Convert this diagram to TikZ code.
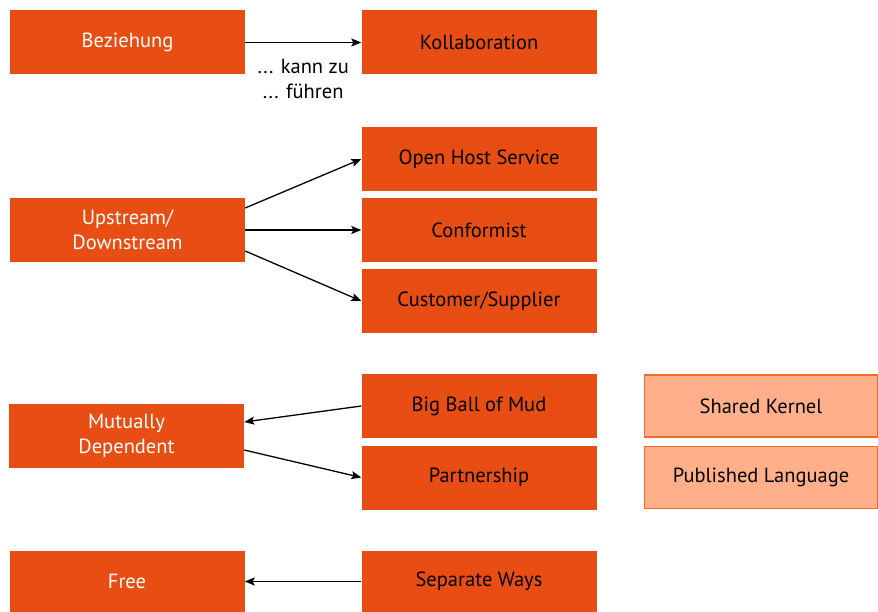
\documentclass[tikz,border=0pt]{standalone}
\usepackage{fontspec}
\setmainfont{PT Sans}
\usetikzlibrary{arrows.meta}
\definecolor{dorange}{HTML}{E84E13}
\definecolor{lorange}{HTML}{FFB08A}
\definecolor{lborder}{HTML}{F06A2A}
\begin{document}
\begin{tikzpicture}[x=1pt,y=-1pt,
  txt/.style={font=\fontsize{20.5}{25}\selectfont},
  box/.style={txt,fill=dorange,draw=none,inner sep=0pt,minimum width=235pt,minimum height=64pt,align=center},
  lbox/.style={box,text=white},
  rbox/.style={box,text=black},
  pbox/.style={box,fill=lorange,draw=lborder,line width=1.2pt,minimum width=233pt,minimum height=62pt,text=black},
  arr/.style={-{Stealth[length=10pt,width=8pt,inset=2pt]},line width=1.3pt,black}]
\useasboundingbox (0,0) rectangle (878,612);
\node[lbox] (bez) at (127.5,42.5) {Beziehung};
\node[rbox] (kol) at (479,42.5) {Kollaboration};
\node[lbox] (ups) at (127.5,230) {Upstream/\\Downstream};
\node[rbox] (ohs) at (479,159) {Open Host Service};
\node[rbox] (con) at (479,230) {Conformist};
\node[rbox] (cus) at (479,301) {Customer/Supplier};
\node[lbox] (mud) at (126.5,436) {Mutually\\Dependent};
\node[rbox] (bbm) at (479,406) {Big Ball of Mud};
\node[rbox] (par) at (479,477.5) {Partnership};
\node[pbox] (shk) at (761,406) {Shared Kernel};
\node[pbox] (pub) at (761,477.5) {Published Language};
\node[lbox,minimum height=61pt] (fre) at (127,581.5) {Free};
\node[rbox,minimum height=61pt] (sep) at (479,581.5) {Separate Ways};
\draw[arr] (bez.east) -- node[below=13pt,align=center,txt]{... kann zu\\... führen} (kol.west);
\draw[arr] ([yshift=22pt]ups.east) -- (ohs.west);
\draw[arr] (ups.east) -- (con.west);
\draw[arr] ([yshift=-21pt]ups.east) -- (cus.west);
\draw[arr] (bbm.west) -- ([yshift=14pt]mud.east);
\draw[arr] ([yshift=-14pt]mud.east) -- (par.west);
\draw[arr] (sep.west) -- (fre.east);
\end{tikzpicture}
\end{document}
